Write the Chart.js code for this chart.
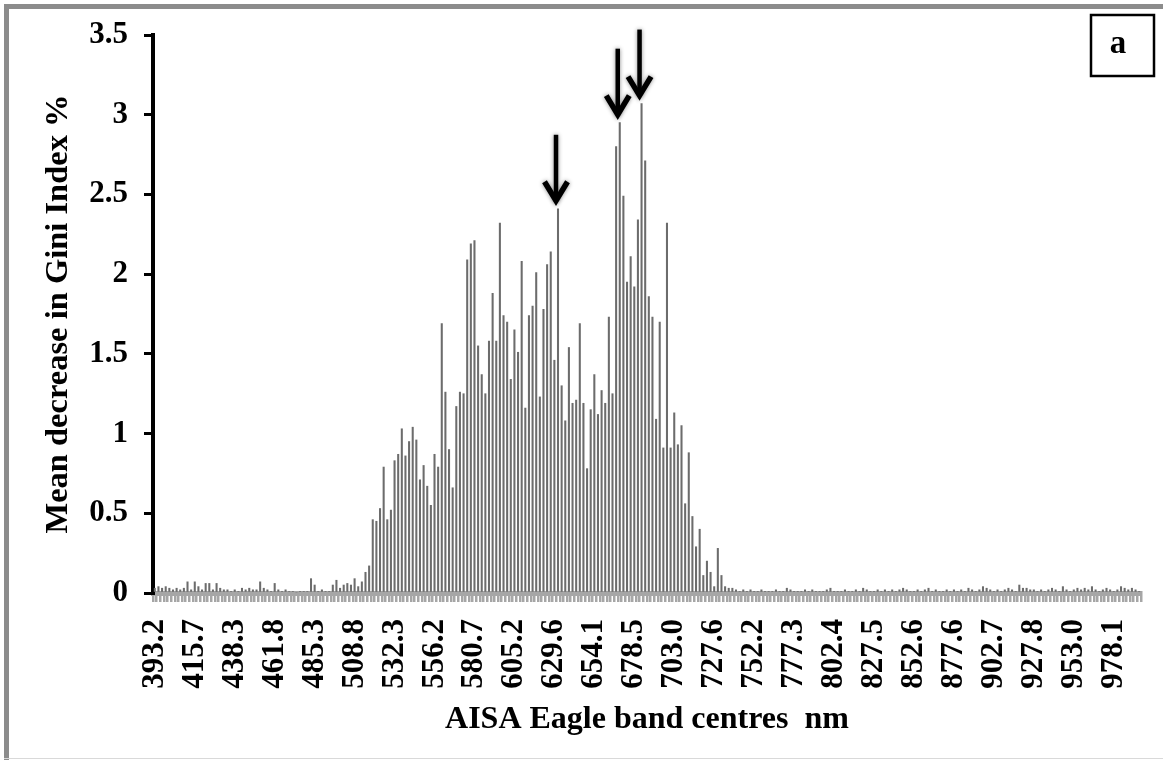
<!DOCTYPE html>
<html>
<head>
<meta charset="utf-8">
<script src="https://cdn.jsdelivr.net/npm/chart.js@4/dist/chart.umd.min.js"></script>
<style>
  html, body { margin: 0; padding: 0; background: #ffffff; }
  #wrap { width: 1163px; height: 760px; }
</style>
</head>
<body>
<div id="wrap"><canvas id="gini" width="1163" height="760"></canvas></div>
<script>
// Wavelengths printed under the axis, one every eleventh band
const tickLabels = ['393.2','415.7','438.3','461.8','485.3','508.8','532.3','556.2','580.7','605.2',
  '629.6','654.1','678.5','703.0','727.6','752.2','777.3','802.4','827.5','852.6',
  '877.6','902.7','927.8','953.0','978.1'];
const labelStep = 11;

// Mean decrease in Gini index (%) for each AISA Eagle band, blue end first
const giniBlue = [0.03,0.04,0.03,0.04,0.03,0.02,0.03,0.02,0.03,0.07,
  0.02,0.07,0.04,0.02,0.06,0.06,0.02,0.06,0.03,0.02,
  0.02,0.01,0.02,0.01,0.03,0.02,0.03,0.02,0.02,0.07,
  0.03,0.02,0.01,0.06,0.02,0.01,0.02,0.01,0.01,0.00,
  0.01,0.01,0.01,0.09,0.05,0.01,0.02,0.01,0.01,0.05,
  0.08,0.03,0.05,0.06];
const giniVisible = [0.05,0.09,0.04,0.07,0.13,0.17,0.46,0.45,0.53,0.79,
  0.46,0.52,0.83,0.87,1.03,0.86,0.95,1.04,0.96,0.71,
  0.80,0.67,0.55,0.87,0.79,1.69,1.26,0.90,0.66,1.17,
  1.26,1.25,2.09,2.19,2.21,1.55,1.37,1.25,1.58,1.88,
  1.58,2.32,1.74,1.70,1.34,1.65,1.51,2.08,1.16,1.74,
  1.80,2.01,1.23,1.78,2.06,2.14,1.46,2.41,1.30,1.08,
  1.54,1.19,1.21,1.69,1.19,0.78,1.15,1.37,1.12,1.27,
  1.19,1.73,1.25,2.80,2.95,2.49,1.95,2.11,1.92,2.34,
  3.07,2.71,1.86,1.73,1.09,1.70,0.91,2.32,0.91,1.13,
  0.93,1.05,0.56,0.88,0.48,0.29,0.40,0.11,0.20,0.13,
  0.04,0.28,0.11,0.04,0.03,0.03];
const giniNir = [0.02,0.01,0.02,0.01,0.02,0.01,0.01,0.02,0.01,0.01,
  0.01,0.02,0.01,0.01,0.03,0.02,0.01,0.01,0.01,0.02,
  0.01,0.02,0.01,0.01,0.01,0.02,0.03,0.01,0.01,0.01,
  0.02,0.01,0.01,0.02,0.01,0.03,0.02,0.01,0.01,0.02,
  0.01,0.02,0.01,0.02,0.01,0.02,0.03,0.02,0.01,0.01,
  0.02,0.01,0.02,0.03,0.01,0.02,0.01,0.01,0.02,0.01,
  0.02,0.01,0.02,0.01,0.03,0.02,0.01,0.02,0.04,0.03,
  0.02,0.01,0.02,0.01,0.02,0.03,0.02,0.01,0.05,0.03,
  0.03,0.02,0.02,0.01,0.02,0.01,0.02,0.03,0.02,0.01,
  0.04,0.02,0.01,0.02,0.03,0.02,0.03,0.02,0.04,0.02,
  0.01,0.02,0.03,0.02,0.01,0.02,0.04,0.03,0.02,0.03,
  0.02,0.01];

// Bands picked out with arrows (position in the band list)
const arrowBands = [111, 128, 134];

const gini = giniBlue.concat(giniVisible, giniNir);
const bands = gini.map((_, i) => i);

const serif = "'Liberation Serif', 'Times New Roman', serif";

const framePlugin = {
  id: 'frame',
  beforeDraw(chart) {
    const c = chart.ctx;
    c.save();
    c.fillStyle = '#ffffff';
    c.fillRect(0, 0, chart.width, chart.height);
    c.fillStyle = '#8c8c8c';
    c.fillRect(4, 4, chart.width - 4, 5);
    c.fillRect(4, 4, 5, chart.height - 4);
    c.fillStyle = '#d9d9d9';
    c.fillRect(4, chart.height - 2, chart.width - 4, 1);
    c.restore();
  },
  afterDraw(chart) {
    const c = chart.ctx;
    c.save();
    // panel letter
    c.strokeStyle = '#000000';
    c.lineWidth = 2.5;
    c.strokeRect(1091, 15, 63, 61);
    c.fillStyle = '#000000';
    c.font = 'bold 33px ' + serif;
    c.textAlign = 'center';
    c.textBaseline = 'middle';
    c.fillText('a', 1118, 44);
    c.restore();
  }
};

const arrowPlugin = {
  id: 'arrows',
  afterDatasetsDraw(chart) {
    const c = chart.ctx;
    const xs = chart.scales.x, ys = chart.scales.y;
    c.save();
    c.strokeStyle = '#000000';
    c.shadowColor = 'rgba(0,0,0,0.45)';
    c.shadowBlur = 4;
    c.lineCap = 'butt';
    c.lineJoin = 'miter';
    arrowBands.forEach(i => {
      const x = xs.getPixelForValue(i) - 2;
      const tip = ys.getPixelForValue(gini[i]) - 4;
      c.lineWidth = 4.5;
      c.beginPath();
      c.moveTo(x, tip - 70);
      c.lineTo(x, tip - 4);
      c.stroke();
      c.lineWidth = 5.5;
      c.beginPath();
      c.moveTo(x - 11.5, tip - 23);
      c.lineTo(x, tip - 4);
      c.lineTo(x + 11.5, tip - 23);
      c.stroke();
    });
    c.restore();
  }
};

new Chart(document.getElementById('gini'), {
  type: 'bar',
  data: {
    labels: bands,
    datasets: [{
      data: gini,
      backgroundColor: '#6c6c6c',
      barThickness: 1.4,
      borderWidth: 0
    }]
  },
  options: {
    responsive: false,
    animation: false,
    devicePixelRatio: 1,
    layout: { padding: { left: 10, top: 35, right: 22, bottom: 10 } },
    plugins: { legend: { display: false }, tooltip: { enabled: false } },
    scales: {
      x: {
        type: 'category',
        offset: true,
        border: { display: true, color: '#a6a6a6', width: 5 },
        grid: { display: true, offset: true, drawOnChartArea: false, drawTicks: true,
                tickLength: 9, color: '#a6a6a6', lineWidth: 2.5 },
        ticks: {
          autoSkip: false, minRotation: 90, maxRotation: 90, padding: 17,
          color: '#000000',
          font: { family: serif, size: 31, weight: 'bold' },
          callback: (v, i) => (i % labelStep === 0 && tickLabels[i / labelStep]) ? tickLabels[i / labelStep] : ''
        },
        title: {
          display: true, text: 'AISA Eagle band centres  nm', color: '#000000',
          font: { family: serif, size: 32, weight: 'bold' },
          padding: { top: 0, bottom: 11 }
        },
        afterFit(s) { s.height = 157; s.paddingLeft = 0; s.paddingRight = 0; }
      },
      y: {
        min: 0, max: 3.5,
        border: { display: true, color: '#000000', width: 4 },
        grid: { display: true, drawOnChartArea: false, drawTicks: true, tickLength: 9,
                color: '#000000', lineWidth: 3 },
        ticks: {
          stepSize: 0.5, padding: 16, color: '#000000',
          font: { family: serif, size: 31, weight: 'bold' },
          callback: v => String(v)
        },
        title: {
          display: true, text: 'Mean decrease in Gini Index %', color: '#000000',
          font: { family: serif, size: 32.5, weight: 'bold' },
          padding: { top: 29, bottom: 0 }
        },
        afterFit(s) { s.width = 143; }
      }
    }
  },
  plugins: [framePlugin, arrowPlugin]
});
</script>
</body>
</html>
